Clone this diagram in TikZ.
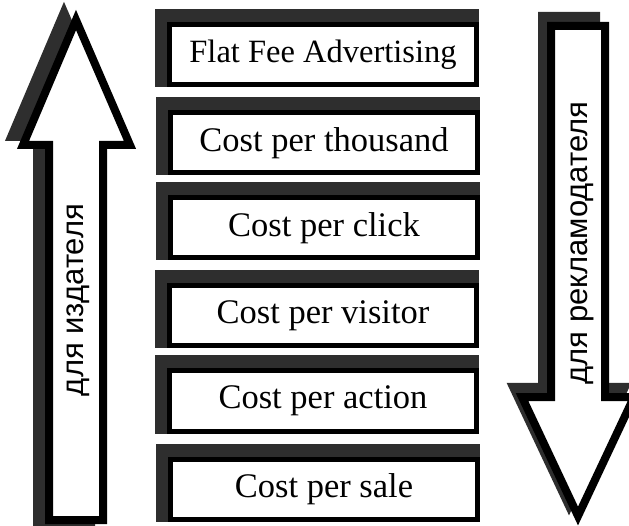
\documentclass[tikz,border=0pt]{standalone}
\usepackage{fontspec}
\setmainfont{Liberation Serif}
\newfontfamily\sidefont{Liberation Sans}
\usetikzlibrary{backgrounds}

\definecolor{shade}{gray}{0.18}

\tikzset{
  costbox/.style={draw=black, line width=5pt, fill=white, inner sep=0pt,
    minimum width=307pt, minimum height=60pt,
    font=\fontsize{34.5}{36}\selectfont},
  boxshadow/.style={fill=shade},
  arrowbody/.style={draw=black, line width=8pt, fill=white, line join=miter},
  arrowshadow/.style={draw=shade, fill=shade, line width=8pt, line join=miter},
  sidelabel/.style={rotate=90, inner sep=0pt, font=\sidefont\fontsize{31}{33}\selectfont}
}

\begin{document}
\begin{tikzpicture}[x=1pt, y=-1pt]
  \useasboundingbox (0,0) rectangle (629,526);
  \clip (0,0) rectangle (629,526);

  % pricing models, top to bottom
  \node[costbox, font=\fontsize{32.5}{34}\selectfont] (b1) at (323,55) {Flat Fee Advertising};
  \node[costbox] (b2) at (324,143) {Cost per thousand};
  \node[costbox] (b3) at (324,228) {Cost per click};
  \node[costbox] (b4) at (323,316) {Cost per visitor};
  \node[costbox] (b5) at (323,401) {Cost per action};
  \node[costbox] (b6) at (324,489) {Cost per sale};

  % dark offset shadows behind the boxes
  \begin{scope}[on background layer]
    \foreach \b in {b1,b2,b3,b4,b5,b6}
      \fill[boxshadow] ([xshift=-12pt, yshift=13pt]\b.north west) rectangle (\b.south east);
  \end{scope}

  % left arrow (pointing up)
  \draw[arrowshadow] (37,530) -- (37,137) -- (11,137) -- (64,12) -- (118,137)
        -- (91,137) -- (91,530) -- cycle;
  \draw[arrowbody] (49,520) -- (49,145) -- (23,145) -- (76,20) -- (130,145)
        -- (103,145) -- (103,520) -- cycle;
  \node[sidelabel] (lt) at (78,300) {для издателя};

  % right arrow (pointing down)
  \draw[arrowshadow] (542,16) -- (596,16) -- (596,387) -- (625,387) -- (569,506)
        -- (513,387) -- (542,387) -- cycle;
  \draw[arrowbody] (551,26) -- (605,26) -- (605,397) -- (634,397) -- (578,516)
        -- (522,397) -- (551,397) -- cycle;
  \node[sidelabel] (rt) at (582,243) {для рекламодателя};
\end{tikzpicture}
\end{document}
